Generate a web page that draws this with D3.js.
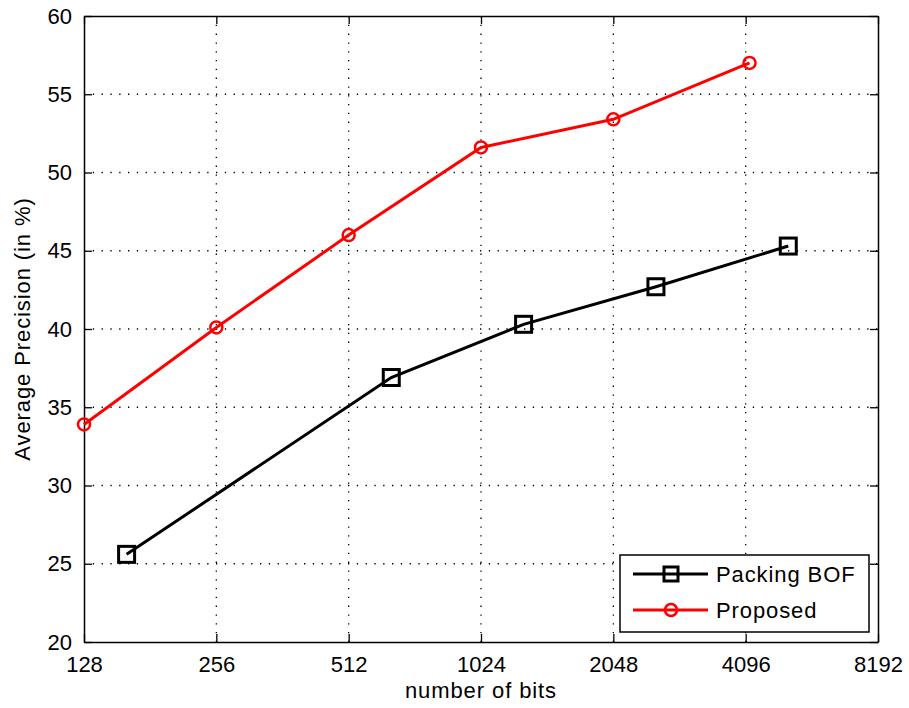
<!DOCTYPE html>
<html>
<head>
<meta charset="utf-8">
<script src="https://cdn.jsdelivr.net/npm/d3@7"></script>
<style>
  body { margin: 0; background: #fff; }
  text { font-family: "Liberation Sans", Arial, sans-serif; }
  .lbl { letter-spacing: 0.9px; }
</style>
</head>
<body>
<script>
// data
var xTicks = [128, 256, 512, 1024, 2048, 4096, 8192];
var yTicks = [20, 25, 30, 35, 40, 45, 50, 55, 60];
var bofBits = [160, 640, 1280, 2560, 5120];
var bofAP = [25.6, 36.9, 40.3, 42.7, 45.3];
var propBits = [128, 256, 512, 1024, 2048, 4180];
var propAP = [33.9, 40.1, 46.0, 51.6, 53.4, 57.0];

var width = 909, height = 708;
var margin = {top: 16, right: 31, bottom: 66, left: 84};
var w = width - margin.left - margin.right;
var h = height - margin.top - margin.bottom;

var svg = d3.select("body").append("svg")
    .attr("width", width)
    .attr("height", height);

var g = svg.append("g")
    .attr("transform", "translate(" + margin.left + "," + margin.top + ")");

var x = d3.scaleLog().base(2).domain([128, 8192]).range([0, w]);
var y = d3.scaleLinear().domain([20, 60]).range([h, 0]);

// grid
g.append("g").selectAll("line").data(xTicks.slice(1, -1)).enter()
    .append("line")
        .attr("x1", d => x(d)).attr("x2", d => x(d))
        .attr("y1", 0).attr("y2", h)
        .attr("stroke", "#000")
        .attr("stroke-width", 1.3)
        .attr("stroke-dasharray", "1.3,7.5");
g.append("g").selectAll("line").data(yTicks.slice(1, -1)).enter()
    .append("line")
        .attr("y1", d => y(d)).attr("y2", d => y(d))
        .attr("x1", 0).attr("x2", w)
        .attr("stroke", "#000")
        .attr("stroke-width", 1.3)
        .attr("stroke-dasharray", "1.3,7.5");

// axes, ticks inward on all four sides
var fmt = d => d;
g.append("g").attr("transform", "translate(0," + h + ")")
    .call(d3.axisBottom(x).tickValues(xTicks).tickFormat(fmt).tickSizeInner(-8).tickSizeOuter(0).tickPadding(14));
g.append("g")
    .call(d3.axisTop(x).tickValues(xTicks).tickFormat("").tickSizeInner(-8).tickSizeOuter(0));
g.append("g")
    .call(d3.axisLeft(y).tickValues(yTicks).tickFormat(fmt).tickSizeInner(-8).tickSizeOuter(0).tickPadding(12));
g.append("g").attr("transform", "translate(" + w + ",0)")
    .call(d3.axisRight(y).tickValues(yTicks).tickFormat("").tickSizeInner(-8).tickSizeOuter(0));

g.selectAll(".domain").attr("stroke", "#000").attr("stroke-width", 1.5);
g.selectAll(".tick line").attr("stroke", "#000").attr("stroke-width", 1.3);
g.selectAll(".tick text")
    .attr("font-size", "22px")
    .attr("font-family", "Liberation Sans, Arial, sans-serif")
    .attr("fill", "#000");

// series
var line = d3.line().x(d => x(d[0])).y(d => y(d[1]));
var bof = d3.zip(bofBits, bofAP);
var prop = d3.zip(propBits, propAP);

g.append("path").datum(bof)
    .attr("d", line).attr("fill", "none")
    .attr("stroke", "#000").attr("stroke-width", 3);
g.selectAll(".sq").data(bof).enter().append("rect")
    .attr("class", "sq")
    .attr("x", d => x(d[0]) - 8).attr("y", d => y(d[1]) - 8)
    .attr("width", 16).attr("height", 16)
    .attr("fill", "none").attr("stroke", "#000").attr("stroke-width", 3);

g.append("path").datum(prop)
    .attr("d", line).attr("fill", "none")
    .attr("stroke", "#f00").attr("stroke-width", 3);
g.selectAll(".ci").data(prop).enter().append("circle")
    .attr("class", "ci")
    .attr("cx", d => x(d[0])).attr("cy", d => y(d[1]))
    .attr("r", 6)
    .attr("fill", "none").attr("stroke", "#f00").attr("stroke-width", 2.5);

// axis labels
svg.append("text")
    .attr("class", "lbl")
    .attr("x", margin.left + w / 2)
    .attr("y", 698)
    .attr("text-anchor", "middle")
    .attr("font-size", "22px")
    .text("number of bits");

svg.append("text")
    .attr("class", "lbl")
    .attr("transform", "translate(30," + (margin.top + h / 2) + ") rotate(-90)")
    .attr("text-anchor", "middle")
    .attr("font-size", "22px")
    .text("Average Precision (in %)");

// legend
var lg = svg.append("g").attr("transform", "translate(620,555)");
lg.append("rect")
    .attr("width", 249).attr("height", 77)
    .attr("fill", "#fff").attr("stroke", "#000").attr("stroke-width", 1.5);
var items = [
    {name: "Packing BOF", color: "#000", mark: "sq"},
    {name: "Proposed", color: "#f00", mark: "ci"}
];
items.forEach(function(it, i) {
    var yy = 19 + i * 36;
    lg.append("line")
        .attr("x1", 13).attr("x2", 88).attr("y1", yy).attr("y2", yy)
        .attr("stroke", it.color).attr("stroke-width", 3);
    if (it.mark === "sq") {
        lg.append("rect")
            .attr("x", 51 - 7).attr("y", yy - 7).attr("width", 14).attr("height", 14)
            .attr("fill", "none").attr("stroke", it.color).attr("stroke-width", 3);
    } else {
        lg.append("circle")
            .attr("cx", 51).attr("cy", yy).attr("r", 6)
            .attr("fill", "none").attr("stroke", it.color).attr("stroke-width", 2.5);
    }
    lg.append("text")
        .attr("class", "lbl")
        .attr("x", 96).attr("y", yy + 8)
        .attr("font-size", "22px")
        .text(it.name);
});
</script>
</body>
</html>
